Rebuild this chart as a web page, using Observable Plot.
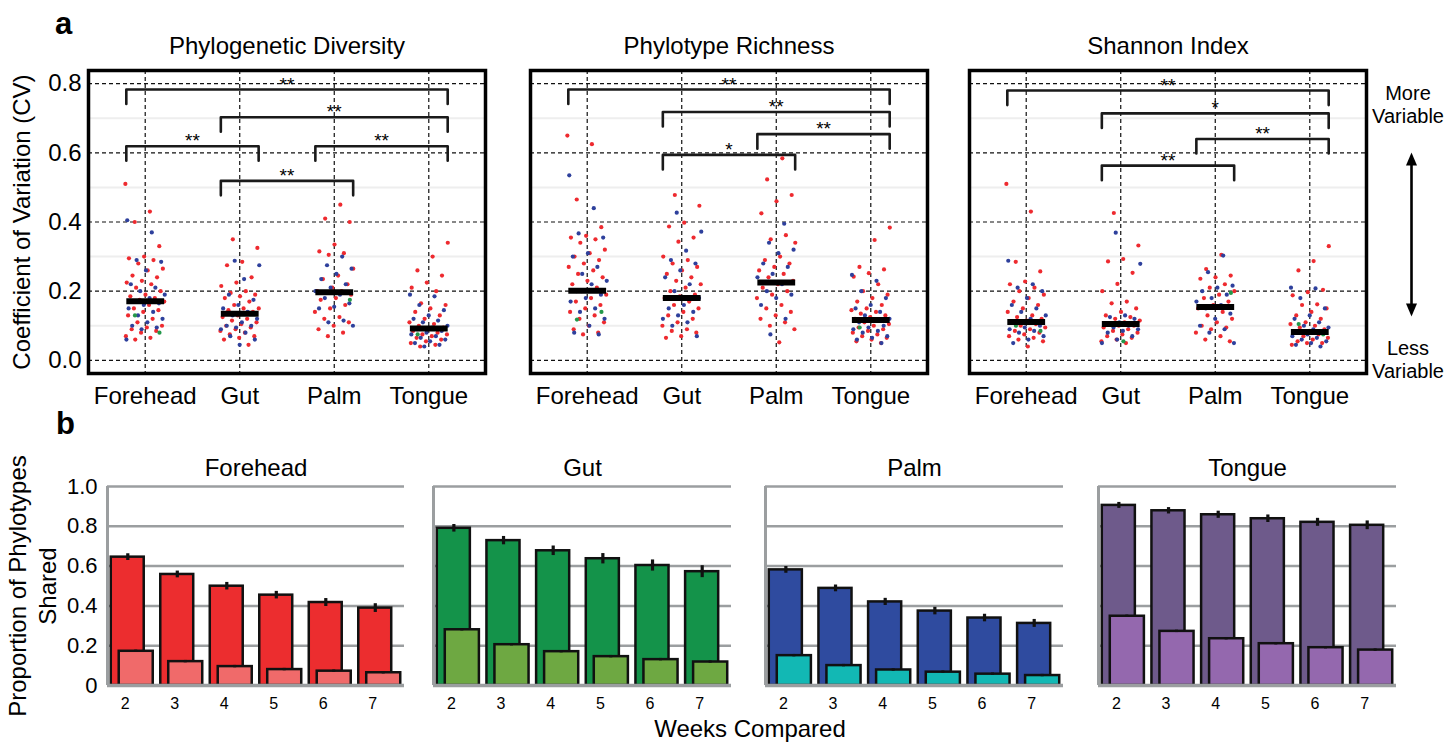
<!DOCTYPE html>
<html><head><meta charset="utf-8">
<script src="https://cdn.jsdelivr.net/npm/d3@7"></script>
<script src="https://cdn.jsdelivr.net/npm/@observablehq/plot@0.6"></script>
<style>
body{margin:0;background:#fff;}
#root{position:relative;width:1450px;height:743px;overflow:hidden;font-family:"Liberation Sans",Arial,Helvetica,sans-serif;}
#root > svg{position:absolute;}
</style></head><body><div id="root"></div>
<script>
// ---------- categories & labels ----------
const sites = ["Forehead", "Gut", "Palm", "Tongue"];
const metrics = ["Phylogenetic Diversity", "Phylotype Richness", "Shannon Index"];
const cvTicks = [0, 0.2, 0.4, 0.6, 0.8];
const cvMinor = [0.1, 0.3, 0.5, 0.7];
const weeks = [2, 3, 4, 5, 6, 7];
const shareTicks = [0, 0.2, 0.4, 0.6, 0.8, 1.0];

// ---------- panel a: coefficient of variation per subject/site ----------
const pdForehead = {red:[0.51,0.43,0.40,0.33,0.30,0.295,0.29,0.28,0.265,0.26,0.245,0.24,0.23,0.225,0.22,0.21,0.20,0.19,0.185,0.18,0.175,0.17,0.16,0.15,0.145,0.14,0.13,0.12,0.11,0.10,0.095,0.09,0.085,0.08,0.07,0.065,0.06],
  blue:[0.405,0.37,0.29,0.285,0.26,0.22,0.21,0.20,0.19,0.18,0.17,0.165,0.16,0.15,0.14,0.13,0.12,0.11,0.10,0.095,0.09,0.06], green:[0.13,0.08]};
const pdGut = {red:[0.35,0.325,0.285,0.275,0.24,0.225,0.215,0.20,0.195,0.19,0.185,0.18,0.17,0.16,0.15,0.15,0.145,0.14,0.13,0.125,0.12,0.115,0.11,0.105,0.10,0.095,0.09,0.085,0.08,0.075,0.07,0.065,0.06,0.045],
  blue:[0.288,0.275,0.235,0.19,0.175,0.16,0.15,0.14,0.13,0.12,0.11,0.10,0.10,0.095,0.09,0.08,0.07,0.06,0.045], green:[]};
const pdPalm = {red:[0.45,0.41,0.40,0.335,0.315,0.31,0.305,0.265,0.245,0.235,0.22,0.21,0.20,0.20,0.195,0.19,0.18,0.175,0.16,0.15,0.14,0.125,0.12,0.11,0.10,0.09,0.08,0.07],
  blue:[0.30,0.275,0.265,0.25,0.235,0.22,0.21,0.20,0.19,0.18,0.165,0.155,0.15,0.115,0.11,0.10], green:[0.175]};
const pdTongue = {red:[0.34,0.30,0.26,0.245,0.225,0.21,0.20,0.165,0.16,0.15,0.14,0.13,0.12,0.11,0.105,0.10,0.095,0.09,0.085,0.08,0.075,0.075,0.07,0.065,0.06,0.055,0.05,0.045,0.04],
  blue:[0.19,0.185,0.16,0.145,0.13,0.12,0.115,0.11,0.10,0.095,0.09,0.085,0.08,0.075,0.07,0.065,0.06,0.055,0.05,0.045,0.04], green:[0.075]};

const prForehead = {red:[0.65,0.625,0.465,0.385,0.36,0.355,0.35,0.34,0.32,0.31,0.30,0.29,0.28,0.27,0.26,0.25,0.24,0.23,0.22,0.21,0.20,0.19,0.18,0.17,0.16,0.15,0.14,0.13,0.12,0.11,0.10,0.09,0.08,0.075],
  blue:[0.535,0.44,0.367,0.355,0.31,0.30,0.27,0.25,0.23,0.22,0.20,0.19,0.18,0.17,0.15,0.14,0.12,0.10,0.08,0.075], green:[0.118,0.14]};
const prGut = {red:[0.478,0.447,0.398,0.387,0.355,0.343,0.30,0.29,0.28,0.27,0.26,0.25,0.24,0.23,0.22,0.21,0.20,0.19,0.185,0.18,0.17,0.16,0.15,0.14,0.13,0.12,0.11,0.10,0.09,0.085,0.08,0.07,0.065],
  blue:[0.427,0.372,0.317,0.29,0.28,0.26,0.24,0.22,0.20,0.18,0.16,0.15,0.14,0.13,0.12,0.11,0.10,0.07], green:[0.18]};
const prPalm = {red:[0.584,0.523,0.478,0.46,0.425,0.362,0.35,0.34,0.30,0.29,0.28,0.27,0.26,0.25,0.24,0.23,0.22,0.21,0.20,0.19,0.18,0.16,0.15,0.14,0.13,0.12,0.11,0.10,0.09,0.052],
  blue:[0.395,0.34,0.32,0.31,0.28,0.27,0.25,0.24,0.22,0.20,0.19,0.18,0.16,0.12,0.075], green:[]};
const prTongue = {red:[0.384,0.348,0.27,0.263,0.252,0.242,0.22,0.20,0.19,0.18,0.17,0.16,0.15,0.145,0.14,0.135,0.13,0.125,0.12,0.115,0.11,0.105,0.10,0.095,0.09,0.085,0.08,0.075,0.07,0.065,0.06,0.055,0.05],
  blue:[0.247,0.23,0.20,0.18,0.16,0.15,0.14,0.13,0.12,0.115,0.11,0.10,0.095,0.09,0.085,0.08,0.07,0.065,0.06,0.05], green:[0.095]};

const shForehead = {red:[0.51,0.43,0.285,0.257,0.228,0.22,0.21,0.20,0.19,0.18,0.17,0.16,0.15,0.14,0.13,0.125,0.12,0.115,0.11,0.105,0.10,0.095,0.09,0.085,0.08,0.075,0.07,0.065,0.06,0.055,0.04],
  blue:[0.288,0.22,0.21,0.20,0.18,0.16,0.15,0.14,0.13,0.12,0.11,0.10,0.095,0.09,0.085,0.08,0.07,0.06,0.05], green:[0.10,0.085]};
const shGut = {red:[0.426,0.332,0.293,0.286,0.253,0.221,0.20,0.17,0.165,0.15,0.14,0.13,0.125,0.12,0.115,0.11,0.105,0.10,0.10,0.095,0.09,0.085,0.08,0.075,0.07,0.065,0.06,0.055,0.05],
  blue:[0.369,0.279,0.13,0.125,0.12,0.11,0.105,0.10,0.095,0.09,0.085,0.08,0.07,0.06,0.05], green:[0.055]};
const shPalm = {red:[0.305,0.264,0.245,0.24,0.236,0.22,0.21,0.20,0.19,0.18,0.17,0.16,0.15,0.14,0.13,0.12,0.11,0.10,0.095,0.09,0.08,0.07,0.06,0.055],
  blue:[0.303,0.255,0.216,0.21,0.20,0.19,0.18,0.17,0.16,0.15,0.135,0.12,0.10,0.09,0.08,0.05], green:[0.195]};
const shTongue = {red:[0.33,0.287,0.26,0.204,0.197,0.188,0.162,0.16,0.15,0.14,0.13,0.12,0.11,0.105,0.10,0.095,0.09,0.085,0.08,0.075,0.07,0.065,0.06,0.055,0.05,0.05,0.045],
  blue:[0.21,0.208,0.18,0.15,0.13,0.12,0.11,0.10,0.095,0.09,0.085,0.08,0.075,0.07,0.065,0.06,0.055,0.05,0.045,0.04], green:[0.105,0.075]};

const pdMedians = [0.171, 0.135, 0.197, 0.092];
const prMedians = [0.201, 0.180, 0.225, 0.117];
const shMedians = [0.111, 0.105, 0.154, 0.082];

// significance brackets: [from site, to site, height, label]
const pdBrackets = [[0,3,0.783,"**"],[1,3,0.703,"**"],[0,1,0.619,"**"],[2,3,0.619,"**"],[1,2,0.519,"**"]];
const prBrackets = [[0,3,0.783,"**"],[1,3,0.718,"**"],[2,3,0.654,"**"],[1,2,0.594,"*"]];
const shBrackets = [[0,3,0.780,"**"],[1,3,0.714,"*"],[2,3,0.640,"**"],[1,2,0.563,"**"]];

// ---------- panel b: proportion of phylotypes shared ----------
const foreheadAll = [0.645,0.558,0.499,0.454,0.417,0.389];
const foreheadCore = [0.172,0.120,0.095,0.080,0.072,0.064];
const gutAll = [0.790,0.728,0.677,0.637,0.603,0.572];
const gutCore = [0.280,0.205,0.170,0.145,0.130,0.118];
const palmAll = [0.581,0.488,0.420,0.374,0.339,0.312];
const palmCore = [0.150,0.100,0.078,0.067,0.057,0.050];
const tongueAll = [0.905,0.878,0.858,0.838,0.820,0.805];
const tongueCore = [0.348,0.272,0.235,0.210,0.190,0.178];
const foreheadAllErr = [0.017,0.017,0.019,0.019,0.020,0.022];
const gutAllErr = [0.019,0.021,0.024,0.026,0.028,0.030];
const palmAllErr = [0.017,0.017,0.018,0.019,0.019,0.020];
const tongueAllErr = [0.015,0.016,0.018,0.019,0.020,0.022];
const coreErr = [0.006,0.006,0.006,0.006,0.006,0.006];

// ---------- styling ----------
const FONT = "'Liberation Sans', Arial, Helvetica, sans-serif";
const dotColors = {red:"#ee2a2f", blue:"#2e409c", green:"#23984a"};
const GRID = "#9b9ea0";
const root = document.getElementById("root");
const jitter = i => (((i * 0.6180339887) % 1) - 0.5) * 0.42;

function place(el, left, top) {
  el.style.left = left + "px"; el.style.top = top + "px"; el.style.position = "absolute";
  root.appendChild(el);
}

function topPanel({left, width, marginLeft, marginRight, title, groups, medians, brackets, yAxis}) {
  const pts = [];
  groups.forEach((g, ci) => {
    [["red", 0], ["blue", 47], ["green", 91]].forEach(([c, off]) => {
      g[c].forEach((v, i) => pts.push({ci, c, v, j: jitter(i + off + ci * 7)}));
    });
  });
  const bk = brackets.flatMap(([a, b, y], k) => [
    {k, x: a - 0.2, y: y - 0.042}, {k, x: a - 0.2, y}, {k, x: b + 0.2, y}, {k, x: b + 0.2, y: y - 0.042}
  ]);
  const marks = [
    Plot.ruleY(cvMinor, {stroke: "#eeeeee", strokeWidth: 2}),
    Plot.ruleY(cvTicks, {stroke: "#111", strokeWidth: 1.2, strokeDasharray: "4,3"}),
    Plot.ruleX([0, 1, 2, 3], {stroke: "#111", strokeWidth: 1.2, strokeDasharray: "4,3"}),
    Plot.line(bk, {x: "x", y: "y", z: "k", stroke: "#1a1a1a", strokeWidth: 2.6, curve: "linear"}),
    Plot.text(brackets, {x: d => (d[0] + d[1]) / 2, y: d => d[2], text: d => d[3], lineAnchor: "bottom", dy: 1, fontSize: 19}),
    Plot.dot(pts, {x: d => d.ci + d.j, y: "v", r: 2.1, fill: d => dotColors[d.c], stroke: "none"}),
    Plot.link(medians, {x1: (d, i) => i - 0.2, x2: (d, i) => i + 0.2, y1: d => d, y2: d => d, stroke: "#000", strokeWidth: 6}),
    Plot.frame({stroke: "#000", strokeWidth: 3.5}),
    Plot.axisX([0, 1, 2, 3], {tickFormat: i => sites[i], tickSize: 0, tickPadding: 13, fontSize: 24, label: null}),
    Plot.text([title], {frameAnchor: "top", dy: -24, lineAnchor: "middle", fontSize: 24})
  ];
  if (yAxis) {
    marks.push(
      Plot.axisY(cvTicks, {tickFormat: d => d.toFixed(1), tickSize: 0, tickPadding: 7, fontSize: 24, label: null}),
      Plot.text(["Coefficient of Variation (CV)"], {frameAnchor: "left", dx: -66, rotate: -90, textAnchor: "middle", lineAnchor: "middle", fontSize: 24})
    );
  }
  const svg = Plot.plot({
    width, height: 380, marginLeft, marginRight, marginTop: 40, marginBottom: 37,
    x: {domain: [-0.6, 3.6], label: null},
    y: yAxis ? {domain: [-0.038, 0.838], label: null} : {domain: [-0.038, 0.838], label: null, axis: null},
    style: {fontFamily: FONT, fontSize: "24px", color: "#000", background: "none", overflow: "visible"},
    marks
  });
  place(svg, left, 30);
}

function bottomPanel({left, width, marginLeft, name, all, core, allErr, colors, yAxis}) {
  const rows = weeks.map((w, i) => ({w, all: all[i], core: core[i], ae: allErr[i], ce: coreErr[i]}));
  const marks = [
    Plot.ruleY(shareTicks.slice(1), {stroke: GRID, strokeWidth: 2.5}),
    Plot.ruleX([1.5], {y1: 0, y2: 1, stroke: GRID, strokeWidth: 3}),
    Plot.rect(rows, {x1: d => d.w - 0.424, x2: d => d.w + 0.242, y1: 0, y2: "all", fill: colors[0], stroke: "#111", strokeWidth: 2.5}),
    Plot.rect(rows, {x1: d => d.w - 0.263, x2: d => d.w + 0.424, y1: 0, y2: "core", fill: colors[1], stroke: "#111", strokeWidth: 2.5}),
    Plot.ruleX(rows, {x: d => d.w - 0.09, y1: d => d.all - d.ae, y2: d => d.all + d.ae, stroke: "#111", strokeWidth: 3.2}),
    Plot.ruleX(rows, {x: d => d.w + 0.07, y1: d => d.core - d.ce, y2: d => d.core + d.ce, stroke: "#111", strokeWidth: 3}),
    Plot.ruleY([0], {stroke: GRID, strokeWidth: 3.5}),
    Plot.axisX(weeks, {tickSize: 0, tickPadding: 12, fontSize: 16, dx: -7, label: null}),
    Plot.text([name], {frameAnchor: "top", dy: -18, lineAnchor: "middle", fontSize: 24})
  ];
  if (yAxis) {
    marks.push(
      Plot.axisY(shareTicks, {tickFormat: d => d === 0 ? "0" : d.toFixed(1), tickSize: 0, tickPadding: 10, fontSize: 22, label: null}),
      Plot.text(["Proportion of Phylotypes\nShared"], {frameAnchor: "left", dx: -76, rotate: -90, textAnchor: "middle", lineAnchor: "middle", lineHeight: 1.25, fontSize: 24})
    );
  }
  const svg = Plot.plot({
    width, height: 303, marginLeft, marginRight: 5, marginTop: 46, marginBottom: 58,
    x: {domain: [1.5, 7.5], label: null},
    y: yAxis ? {domain: [0, 1], label: null} : {domain: [0, 1], label: null, axis: null},
    style: {fontFamily: FONT, fontSize: "16px", color: "#000", background: "none", overflow: "visible"},
    marks
  });
  place(svg, left, 440);
}

topPanel({left: 0, width: 490, marginLeft: 88, marginRight: 5, title: metrics[0],
  groups: [pdForehead, pdGut, pdPalm, pdTongue], medians: pdMedians, brackets: pdBrackets, yAxis: true});
topPanel({left: 520, width: 417, marginLeft: 10, marginRight: 10, title: metrics[1],
  groups: [prForehead, prGut, prPalm, prTongue], medians: prMedians, brackets: prBrackets, yAxis: false});
topPanel({left: 959, width: 417, marginLeft: 10, marginRight: 10, title: metrics[2],
  groups: [shForehead, shGut, shPalm, shTongue], medians: shMedians, brackets: shBrackets, yAxis: false});

bottomPanel({left: 0, width: 409, marginLeft: 107, name: sites[0], all: foreheadAll, core: foreheadCore, allErr: foreheadAllErr, colors: ["#ec2d2f", "#f06a6a"], yAxis: true});
bottomPanel({left: 428, width: 308, marginLeft: 5, name: sites[1], all: gutAll, core: gutCore, allErr: gutAllErr, colors: ["#14934a", "#6ea842"], yAxis: false});
bottomPanel({left: 760, width: 308, marginLeft: 5, name: sites[2], all: palmAll, core: palmCore, allErr: palmAllErr, colors: ["#2f4b9f", "#12b8b4"], yAxis: false});
bottomPanel({left: 1093, width: 308, marginLeft: 5, name: sites[3], all: tongueAll, core: tongueCore, allErr: tongueAllErr, colors: ["#6e5a8b", "#9468ae"], yAxis: false});

// ---------- annotations (panel letters, variability arrow, shared x label) ----------
const NS = "http://www.w3.org/2000/svg";
const ov = document.createElementNS(NS, "svg");
ov.setAttribute("width", 1450); ov.setAttribute("height", 743);
ov.style.pointerEvents = "none";
function txt(s, x, y, size, opts = {}) {
  const t = document.createElementNS(NS, "text");
  t.setAttribute("x", x); t.setAttribute("y", y);
  t.setAttribute("font-size", size); t.setAttribute("font-family", FONT);
  t.setAttribute("text-anchor", opts.anchor || "start");
  if (opts.bold) t.setAttribute("font-weight", "bold");
  t.textContent = s; ov.appendChild(t);
}
txt("a", 55, 34, 31, {bold: true});
txt("b", 56, 434, 31, {bold: true});
txt("More", 1408, 100, 20, {anchor: "middle"});
txt("Variable", 1408, 123, 20, {anchor: "middle"});
txt("Less", 1408, 355, 20, {anchor: "middle"});
txt("Variable", 1408, 378, 20, {anchor: "middle"});
txt("Weeks Compared", 750, 737, 24, {anchor: "middle"});
const ln = document.createElementNS(NS, "line");
ln.setAttribute("x1", 1411.5); ln.setAttribute("x2", 1411.5);
ln.setAttribute("y1", 162); ln.setAttribute("y2", 307);
ln.setAttribute("stroke", "#000"); ln.setAttribute("stroke-width", 2.6);
ov.appendChild(ln);
[[152.5, 1], [316.5, -1]].forEach(([tip, dir]) => {
  const p = document.createElementNS(NS, "path");
  p.setAttribute("d", `M1411.5,${tip} L1417,${tip + dir * 13} L1406,${tip + dir * 13} Z`);
  p.setAttribute("fill", "#000"); ov.appendChild(p);
});
place(ov, 0, 0);
</script></body></html>
